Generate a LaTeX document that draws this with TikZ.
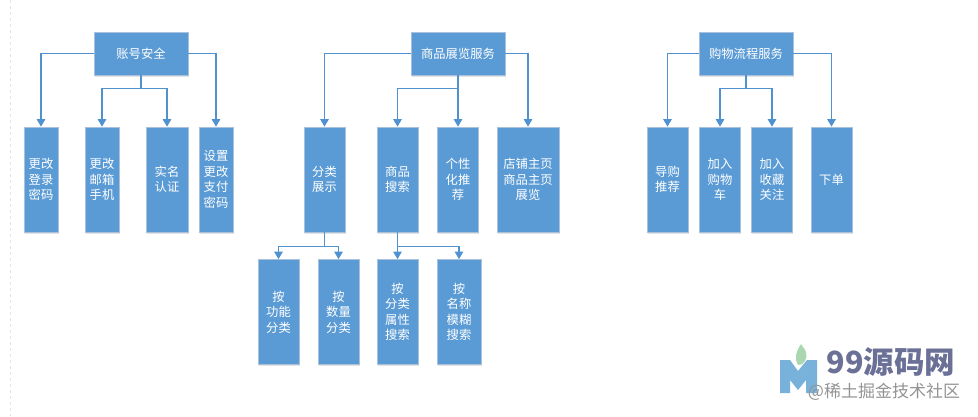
\documentclass[tikz,border=0pt]{standalone}
\usepackage{fontspec}
\setmainfont{Noto Sans CJK SC}
\usepackage{xcolor}
\usepackage{tikz}
\usetikzlibrary{arrows.meta,shadows}
\definecolor{boxblue}{RGB}{91, 155, 213}
\definecolor{edgeblue}{RGB}{170, 193, 222}
\definecolor{flowblue}{RGB}{80, 146, 207}
\definecolor{markpurple}{RGB}{107, 112, 150}
\definecolor{markblue}{RGB}{120, 178, 218}
\definecolor{markgreen}{RGB}{170, 215, 175}

\begin{document}
\begin{tikzpicture}[x=1pt, y=-1pt,
  box/.style={draw=edgeblue, line width=0.7pt, fill=boxblue, rectangle, text=white, align=center, inner sep=0pt, font=\fontsize{12.3}{15.5}\selectfont, drop shadow={shadow xshift=0.6pt, shadow yshift=-1.6pt, fill=gray, opacity=0.22}},
  topbox/.style={box, minimum width=94pt, minimum height=43pt},
  subbox/.style={box, minimum width=41pt, minimum height=105pt},
  slimbox/.style={box, minimum width=34pt, minimum height=105pt},
  flow/.style={draw=flowblue, line width=1.1pt, -{Triangle[length=7.5pt, width=8.5pt]}}
]
\useasboundingbox (0,0) rectangle (978,416);

% left margin
\coordinate (margintop) at (10,0);
\coordinate (marginend) at (10,416);
\draw[gray!20, dashed, line width=0.6pt] (margintop) -- (marginend);

% account security
\node[topbox] (acct) at (141, 53.5) {账号安全};
\node[slimbox] (login) at (41, 179.5) {更改\\登录\\密码};
\node[slimbox] (mail) at (102, 179.5) {更改\\邮箱\\手机};
\node[box, minimum width=42pt, minimum height=105pt] (real) at (167, 179.5) {实名\\认证};
\node[slimbox] (pay) at (216, 179.5) {设置\\更改\\支付\\密码};

% product display
\node[topbox] (show) at (458, 53.5) {商品展览服务};
\node[subbox] (cat) at (324.5, 179.5) {分类\\展示};
\node[subbox] (search) at (397.5, 179.5) {商品\\搜索};
\node[subbox] (rec) at (458, 179.5) {个性\\化推\\荐};
\node[box, minimum width=62pt, minimum height=105pt] (shop) at (528, 179.5) {店铺主页\\商品主页\\展览};
\node[subbox] (func) at (278.5, 312) {按\\功能\\分类};
\node[subbox] (count) at (338.5, 312) {按\\数量\\分类};
\node[subbox] (attr) at (397.5, 312) {按\\分类\\属性\\搜索};
\node[box, minimum width=44pt, minimum height=105pt] (fuzzy) at (459, 312) {按\\名称\\模糊\\搜索};

% shopping flow
\node[topbox] (buy) at (746, 53.5) {购物流程服务};
\node[subbox] (guide) at (667.5, 179.5) {导购\\推荐};
\node[subbox] (cart) at (720, 179.5) {加入\\购物\\车};
\node[subbox] (fav) at (772, 179.5) {加入\\收藏\\关注};
\node[subbox] (order) at (831.5, 179.5) {下单};

% Connections
\draw[flow] (acct.west) -| (login.north);
\draw[flow] (acct.south) -- ++(0,13) -| (mail.north);
\draw[flow] (acct.south) -- ++(0,13) -| (real.north);
\draw[flow] (acct.east) -| (pay.north);

\draw[flow] (show.west) -| (cat.north);
\draw[flow] (show.south) -- ++(0,13) -| (search.north);
\draw[flow] (show.south) -- (rec.north);
\draw[flow] (show.east) -| (shop.north);
\draw[flow] (cat.south) -- ++(0,14) -| (func.north);
\draw[flow] (cat.south) -- ++(0,14) -| (count.north);
\draw[flow] (search.south) -- (attr.north);
\draw[flow] (search.south) -- ++(0,14) -| (fuzzy.north);

\draw[flow] (buy.west) -| (guide.north);
\draw[flow] (buy.south) -- ++(0,13) -| (cart.north);
\draw[flow] (buy.south) -- ++(0,13) -| (fav.north);
\draw[flow] (buy.east) -| (order.north);

% watermark
\fill[markgreen] (801,344) .. controls (796,352) and (794,358) .. (798,365) .. controls (804,366) and (808,358) .. (806,352) .. controls (805,349) and (802,346) .. (801,344) -- cycle;
\fill[markblue] (780,360) -- (790,360) -- (798,371) -- (807,360) -- (817,360) -- (817,393) -- (806,393) -- (806,380) -- (798,390) -- (790,380) -- (790,393) -- (780,393) -- cycle;
\node[text=markpurple, font=\fontsize{30.5}{31}\selectfont\bfseries, inner sep=0pt] (brand) at (891, 362.5) {99源码网};
\node[text=gray!85, font=\fontsize{17}{18}\selectfont, inner sep=0pt] (site) at (884, 392) {@稀土掘金技术社区};
\end{tikzpicture}
\end{document}
